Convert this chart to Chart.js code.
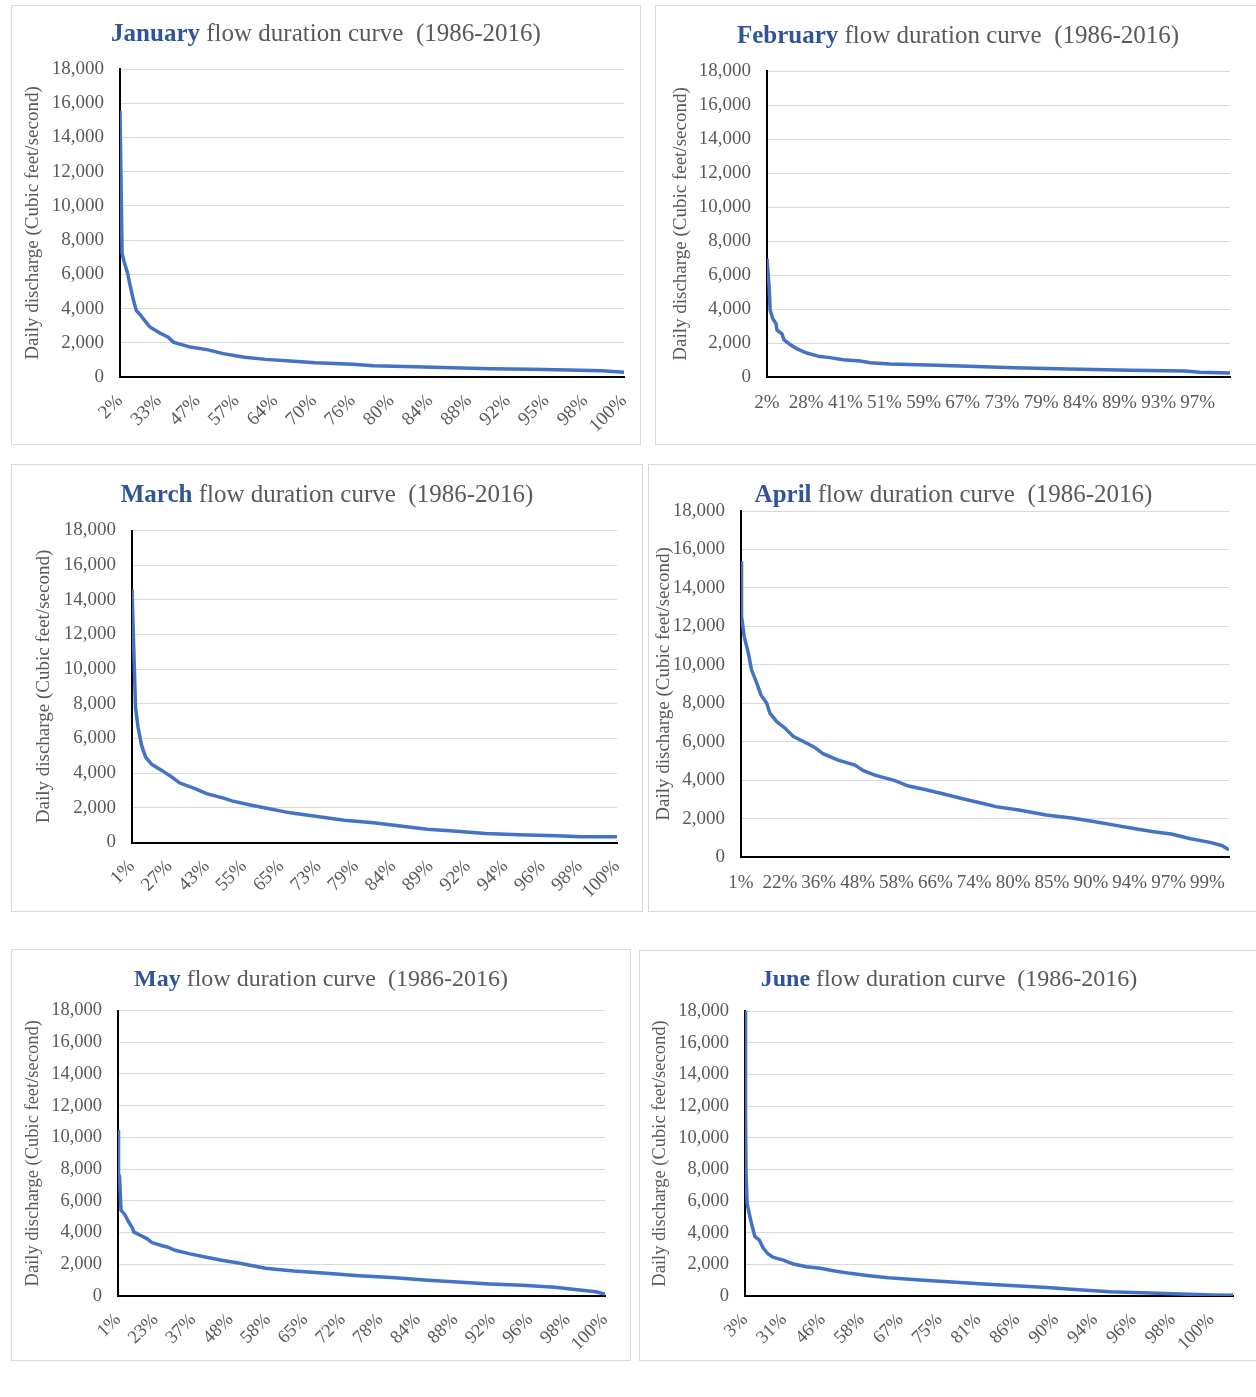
<!DOCTYPE html>
<html>
<head>
<meta charset="utf-8">
<title>Monthly flow duration curves (1986-2016)</title>
<script src="https://cdn.jsdelivr.net/npm/chart.js@4.4.0/dist/chart.umd.min.js"></script>
<style>
  html, body { margin: 0; padding: 0; background: #fff; }
  body { position: relative; width: 1256px; height: 1397px; overflow: hidden; }
  .panel { position: absolute; border: 1px solid #d9d9d9; background: #fff; }
  .panel canvas { display: block; }
</style>
</head>
<body>
<script>
// exceedance labels shown under each x axis
const janTicks = ['2%', '33%', '47%', '57%', '64%', '70%', '76%', '80%', '84%', '88%', '92%', '95%', '98%', '100%'];
const febTicks = ['2%', '28%', '41%', '51%', '59%', '67%', '73%', '79%', '84%', '89%', '93%', '97%'];
const marTicks = ['1%', '27%', '43%', '55%', '65%', '73%', '79%', '84%', '89%', '92%', '94%', '96%', '98%', '100%'];
const aprTicks = ['1%', '22%', '36%', '48%', '58%', '66%', '74%', '80%', '85%', '90%', '94%', '97%', '99%'];
const mayTicks = ['1%', '23%', '37%', '48%', '58%', '65%', '72%', '78%', '84%', '88%', '92%', '96%', '98%', '100%'];
const junTicks = ['3%', '31%', '46%', '58%', '67%', '75%', '81%', '86%', '90%', '94%', '96%', '98%', '100%'];

// rank of the daily value (sorted high to low) and discharge in cfs
const janRank = [0, 4, 8, 14, 20, 25, 31, 38, 48, 57, 76, 92, 102, 134, 166, 197, 226, 238, 278, 325, 373, 444, 484, 563, 634, 706, 785, 856, 920, 962];
const janFlow = [15550, 7220, 6720, 6130, 5250, 4570, 3890, 3660, 3270, 2920, 2570, 2330, 2040, 1750, 1600, 1365, 1210, 1150, 1030, 935, 835, 740, 660, 600, 545, 485, 450, 410, 370, 270];

const febRank = [0, 4, 6, 11, 17, 19, 28, 32, 43, 56, 75, 100, 119, 144, 176, 195, 232, 321, 380, 467, 570, 687, 790, 818, 875];
const febFlow = [6960, 5290, 3920, 3430, 3140, 2750, 2550, 2200, 1920, 1670, 1410, 1200, 1140, 1020, 940, 845, 770, 686, 627, 549, 471, 392, 353, 275, 235];

const marRank = [0, 4, 7, 12, 19, 27, 39, 59, 79, 95, 125, 148, 185, 198, 237, 270, 314, 364, 421, 479, 528, 586, 644, 701, 767, 841, 891, 962];
const marFlow = [14610, 10680, 7800, 6650, 5600, 4930, 4510, 4160, 3780, 3430, 3110, 2820, 2530, 2400, 2150, 1960, 1710, 1520, 1290, 1135, 960, 770, 650, 520, 440, 385, 330, 330];

const aprRank = [0, 1, 6, 14, 20, 30, 38, 49, 55, 68, 84, 100, 116, 138, 157, 185, 217, 233, 255, 293, 319, 350, 382, 420, 461, 485, 529, 581, 633, 671, 708, 745, 782, 819, 856, 893, 915, 929];
const aprFlow = [15390, 12520, 11480, 10610, 9740, 9040, 8430, 8000, 7480, 7040, 6700, 6260, 6050, 5740, 5360, 5040, 4780, 4490, 4260, 3970, 3690, 3510, 3300, 3040, 2780, 2620, 2450, 2190, 2020, 1845, 1670, 1500, 1330, 1200, 950, 760, 600, 380];

const mayRank = [0, 1, 3, 6, 13, 21, 29, 31, 44, 57, 67, 84, 97, 113, 140, 172, 205, 238, 271, 291, 347, 412, 476, 541, 605, 670, 734, 799, 863, 912, 944, 962];
const mayFlow = [10460, 7730, 7520, 5410, 5160, 4670, 4250, 4040, 3830, 3620, 3370, 3200, 3090, 2880, 2670, 2460, 2250, 2080, 1880, 1750, 1580, 1430, 1280, 1160, 1010, 880, 760, 670, 550, 380, 270, 125];

const junRank = [0, 1, 2, 4, 8, 13, 19, 27, 35, 44, 54, 73, 92, 117, 143, 168, 200, 232, 273, 333, 394, 454, 514, 575, 635, 695, 771, 846, 891, 929];
const junFlow = [18000, 11330, 7750, 5850, 5220, 4480, 3750, 3540, 3010, 2650, 2440, 2270, 2020, 1850, 1750, 1600, 1430, 1300, 1160, 1010, 880, 760, 650, 530, 400, 270, 190, 105, 60, 40];

const labelStep = 74;   // excel shows every 74th category label
const serif = '"Liberation Serif", "Times New Roman", serif';
const gray = '#595959';

// box = panel border [l, t, r, b], plot = axis corners [l, t, r, b], all in page px
const panels = [
  { month: 'January', ticks: janTicks, rank: janRank, flow: janFlow, days: 963, rotate: true,
    box: [11, 5, 641, 445], plot: [120, 69, 624, 377], titleY: 33, yTitleX: 33, titleSize: 25, tickSize: 19 },
  { month: 'February', ticks: febTicks, rank: febRank, flow: febFlow, days: 876, rotate: false,
    box: [655, 5, 1261, 445], plot: [767, 71, 1230, 377], titleY: 35, yTitleX: 681, titleSize: 25, tickSize: 19 },
  { month: 'March', ticks: marTicks, rank: marRank, flow: marFlow, days: 963, rotate: true,
    box: [11, 464, 643, 912], plot: [132, 530.5, 617, 842.5], titleY: 494, yTitleX: 44, titleSize: 25, tickSize: 19 },
  { month: 'April', ticks: aprTicks, rank: aprRank, flow: aprFlow, days: 930, rotate: false,
    box: [648, 464, 1259, 912], plot: [741, 511, 1229, 857], titleY: 494, yTitleX: 664, titleSize: 25, tickSize: 19 },
  { month: 'May', ticks: mayTicks, rank: mayRank, flow: mayFlow, days: 963, rotate: true,
    box: [11, 949, 631, 1361], plot: [118, 1010.5, 605, 1296], titleY: 978, yTitleX: 33, titleSize: 24, tickSize: 18.5 },
  { month: 'June', ticks: junTicks, rank: junRank, flow: junFlow, days: 930, rotate: true,
    box: [639, 950, 1259, 1361], plot: [745, 1011, 1233, 1296], titleY: 978, yTitleX: 660, titleSize: 24, tickSize: 18.5 },
];

// title with the month in bold blue and the rest in gray
const splitTitle = {
  id: 'splitTitle',
  afterDraw(chart, args, opts) {
    const ctx = chart.ctx;
    const bold = 'bold ' + opts.size + 'px ' + serif;
    const plain = opts.size + 'px ' + serif;
    const rest = ' flow duration curve  (1986-2016)';
    ctx.save();
    ctx.font = bold;
    const w1 = ctx.measureText(opts.month).width;
    ctx.font = plain;
    const w2 = ctx.measureText(rest).width;
    const x = chart.width / 2 - (w1 + w2) / 2;
    ctx.textBaseline = 'middle';
    ctx.font = bold;
    ctx.fillStyle = '#2F5597';
    ctx.fillText(opts.month, x, opts.y);
    ctx.font = plain;
    ctx.fillStyle = gray;
    ctx.fillText(rest, x + w1, opts.y);
    ctx.restore();
  }
};

panels.forEach(p => {
  const [bl, bt, br, bb] = p.box;
  const ox = bl + 1, oy = bt + 1;
  const w = br - bl - 2, h = bb - bt - 2;
  const [pl, pt, pr, pb] = p.plot;

  const div = document.createElement('div');
  div.className = 'panel';
  div.style.left = bl + 'px';
  div.style.top = bt + 'px';
  div.style.width = w + 'px';
  div.style.height = h + 'px';
  const canvas = document.createElement('canvas');
  canvas.width = w;
  canvas.height = h;
  div.appendChild(canvas);
  document.body.appendChild(div);

  const tickFont = { family: serif, size: p.tickSize };
  const rot = p.rotate ? 45 : 0;

  new Chart(canvas, {
    type: 'line',
    data: {
      datasets: [{
        data: p.rank.map((r, i) => ({ x: r, y: p.flow[i] })),
        borderColor: '#4472C4',
        borderWidth: 3.5,
        pointRadius: 0,
        fill: false,
        tension: 0
      }]
    },
    options: {
      responsive: false,
      animation: false,
      devicePixelRatio: 1,
      layout: { padding: { left: 0, top: pt - oy, right: (ox + w) - pr, bottom: 0 } },
      plugins: {
        legend: { display: false },
        tooltip: { enabled: false },
        splitTitle: { month: p.month, y: p.titleY - oy + 1.5, size: p.titleSize }
      },
      scales: {
        x: {
          type: 'linear',
          min: 0,
          max: p.days - 1,
          afterBuildTicks: s => { s.ticks = p.ticks.map((t, i) => ({ value: i * labelStep })); },
          afterFit: s => {
            s.height = (oy + h) - pb;
            // keep the plot edges where the layout puts them
            s.paddingLeft = 0;
            s.paddingRight = 0;
          },
          ticks: {
            autoSkip: false,
            minRotation: rot,
            maxRotation: rot,
            padding: p.rotate ? 13 : 15,
            color: gray,
            font: tickFont,
            callback: (v, i) => p.ticks[i]
          },
          grid: { display: false, drawTicks: false },
          border: { color: '#000', width: 2 }
        },
        y: {
          min: 0,
          max: 18000,
          afterFit: s => { s.width = pl - ox; },
          ticks: {
            stepSize: 2000,
            padding: 16,
            color: gray,
            font: tickFont,
            callback: v => v.toLocaleString('en-US')
          },
          grid: { color: '#d9d9d9', lineWidth: 1, drawTicks: false },
          border: { color: '#000', width: 2 },
          title: {
            display: true,
            text: 'Daily discharge (Cubic feet/second)',
            color: gray,
            font: { family: serif, size: p.tickSize },
            padding: { top: p.yTitleX - ox - p.tickSize * 0.6, bottom: 0 }
          }
        }
      }
    },
    plugins: [splitTitle]
  });
});
</script>
</body>
</html>
